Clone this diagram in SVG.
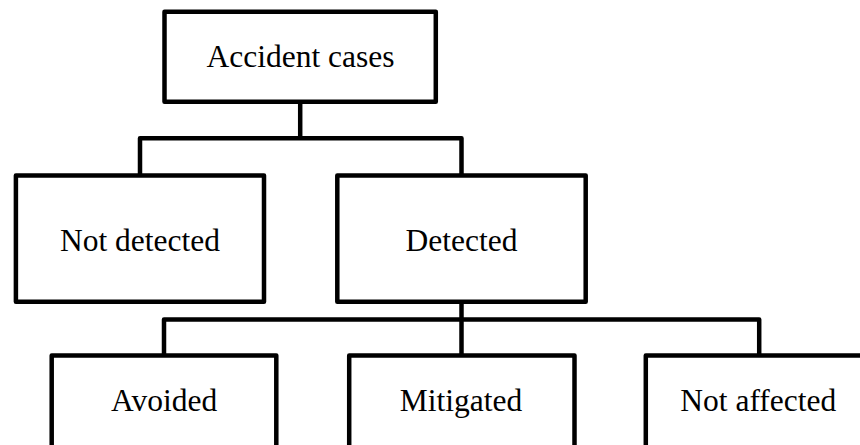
<svg xmlns="http://www.w3.org/2000/svg" width="860" height="445" viewBox="0 0 860 445">
  <style>
    .box { fill: #ffffff; stroke: #000000; stroke-width: 4.5; stroke-linejoin: round; }
    .wire { fill: none; stroke: #000000; stroke-width: 4.5; stroke-linejoin: round; }
    .label { font-family: "Liberation Serif", "Times New Roman", serif; font-size: 31.5px; fill: #000000; text-anchor: middle; }
  </style>
  <rect width="860" height="445" fill="#ffffff"/>

  <!-- tree connectors -->
  <g id="connectors">
    <path class="wire" d="M300.2,101.7 V138.3"/>
    <path class="wire" d="M140,175.5 V138.3 H461.5 V175.5"/>
    <path class="wire" d="M461.5,301.7 V355.5"/>
    <path class="wire" d="M164,355.5 V319.5 H759.2 V355.5"/>
  </g>

  <g id="accident-cases">
    <rect class="box" x="164.5" y="11.7" width="271.3" height="90"/>
    <text class="label" x="300.5" y="66.7">Accident cases</text>
  </g>

  <g id="not-detected">
    <rect class="box" x="15.9" y="175.5" width="248.1" height="126.2"/>
    <text class="label" x="140" y="250.7">Not detected</text>
  </g>

  <g id="detected">
    <rect class="box" x="337.3" y="175.5" width="248.4" height="126.2"/>
    <text class="label" x="461.5" y="250.7">Detected</text>
  </g>

  <g id="avoided">
    <rect class="box" x="51.7" y="355.5" width="224.6" height="120"/>
    <text class="label" x="164.2" y="410.7">Avoided</text>
  </g>

  <g id="mitigated">
    <rect class="box" x="349.2" y="355.5" width="225.3" height="120"/>
    <text class="label" x="461" y="410.7">Mitigated</text>
  </g>

  <g id="not-affected">
    <rect class="box" x="645.8" y="355.5" width="225" height="120"/>
    <text class="label" x="758.3" y="410.7">Not affected</text>
  </g>
</svg>
